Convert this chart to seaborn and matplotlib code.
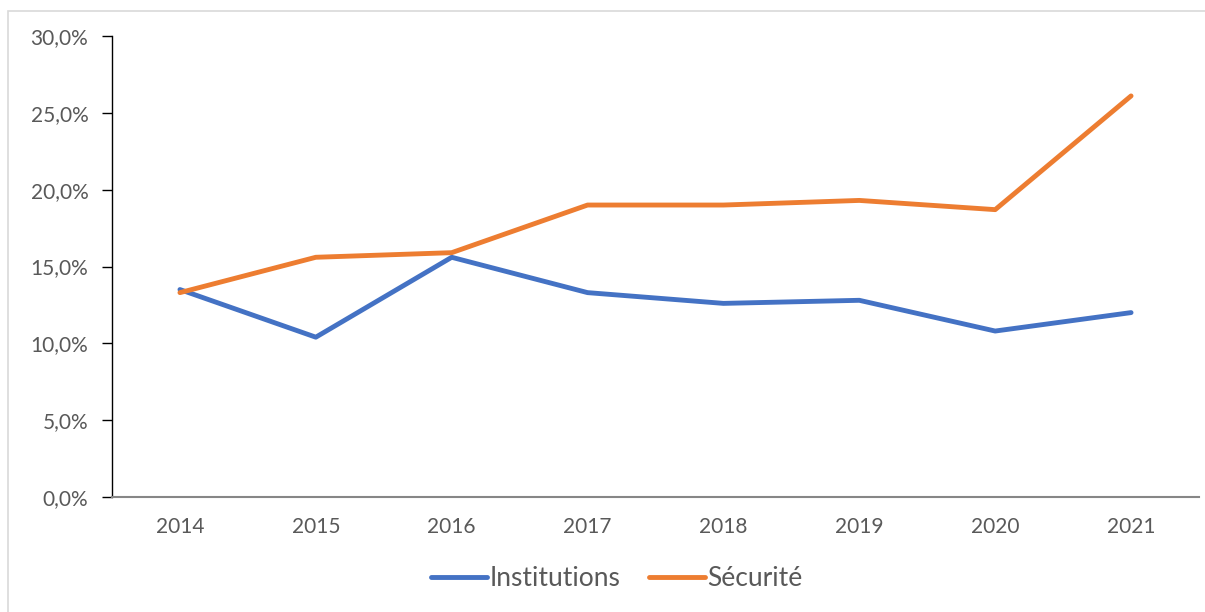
import matplotlib.pyplot as plt
import matplotlib as mpl
import seaborn as sns
import pandas as pd

# Values (share, 0-1)
years = ["2014", "2015", "2016", "2017", "2018", "2019", "2020", "2021"]
institutions = [0.135, 0.104, 0.156, 0.133, 0.126, 0.128, 0.108, 0.120]
securite = [0.133, 0.156, 0.159, 0.190, 0.190, 0.193, 0.187, 0.261]
series_names = ["Institutions", "Sécurité"]
colors = ["#4472C4", "#ED7D31"]

df = pd.DataFrame({
    "pos": list(range(len(years))) * 2,
    "value": institutions + securite,
    "serie": [series_names[0]] * len(years) + [series_names[1]] * len(years),
})

sns.set_style("white")
plt.rcParams["font.family"] = ["Lato", "DejaVu Sans"]

W, H = 1205, 612
fig = plt.figure(figsize=(W / 100, H / 100), dpi=100)
ax = fig.add_axes([112 / W, 1 - 497 / H, (1199 - 112) / W, (497 - 36) / H])

# light frame around the chart area
fig.patches.append(mpl.patches.Rectangle(
    (8 / W, -0.1), 1.2, 1 - 11 / H + 0.1, transform=fig.transFigure,
    fill=False, edgecolor="#D9D9D9", linewidth=1.2))

sns.lineplot(
    data=df, x="pos", y="value", hue="serie",
    palette=colors, linewidth=3.5, ax=ax,
    solid_capstyle="round", legend=False)

ax.set_xlim(-0.5, len(years) - 0.5)
ax.set_ylim(0, 0.30)
ax.set_xticks(range(len(years)))
ax.set_xticklabels(years)
ax.set_yticks([i * 0.05 for i in range(7)])
ax.set_yticklabels([f"{i * 5},0%" for i in range(7)])
ax.set_xlabel("")
ax.set_ylabel("")

for side in ["top", "right"]:
    ax.spines[side].set_visible(False)
ax.spines["left"].set_color("black")
ax.spines["left"].set_linewidth(1.0)
ax.spines["bottom"].set_color("#868686")
ax.spines["bottom"].set_linewidth(1.5)

ax.tick_params(axis="y", left=True, length=7, width=1, color="black",
               labelsize=15, labelcolor="#595959", pad=10)
ax.tick_params(axis="x", bottom=False, labelsize=15, labelcolor="#595959", pad=11)

handles = [mpl.lines.Line2D([], [], color=c, linewidth=3.5, solid_capstyle="round")
           for c in colors]
fig.legend(handles, series_names, loc="center", bbox_to_anchor=(0.512, 1 - 579 / H),
           ncol=2, frameon=False, fontsize=19, handlelength=2.1,
           handletextpad=0.1, columnspacing=1.1, labelcolor="#595959")

fig.savefig("out.png", dpi=100)
